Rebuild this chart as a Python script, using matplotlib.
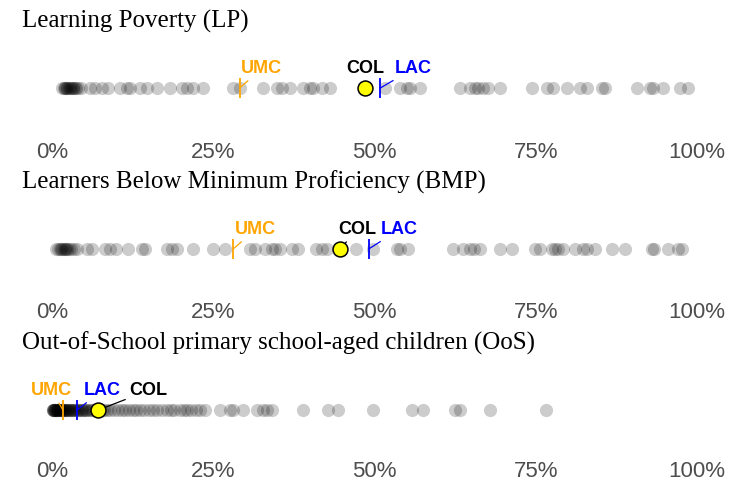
import matplotlib
matplotlib.use("Agg")
import matplotlib.pyplot as plt

# values in percent
lp_values = [1.5, 1.8, 2.0, 2.1, 2.3, 2.4, 2.6, 2.8, 3.0, 3.2, 3.3, 3.6, 3.8, 4.0, 4.5,
             5.9, 6.7, 7.8, 8.7, 10.5, 11.6, 12.1, 13.6, 14.7, 16.3, 18.3, 20.2, 20.9,
             21.9, 23.4, 28.0, 29.1, 32.7, 34.9, 35.6, 36.9, 38.9, 40.0, 40.5, 41.8,
             43.1, 51.6, 54.0, 55.0, 55.5, 57.0, 63.3, 64.8, 65.6, 66.0, 66.8, 67.6,
             69.5, 74.4, 76.7, 77.7, 79.8, 81.9, 83.0, 85.3, 85.7, 90.7, 92.7, 93.2,
             94.7, 97.4, 98.6]
bmp_values = [0.6, 1.0, 1.2, 1.4, 1.6, 1.8, 2.0, 2.2, 2.4, 2.6, 3.0, 3.5, 3.9, 5.4, 6.2,
              8.2, 9.0, 10.0, 11.8, 14.0, 14.4, 17.8, 18.6, 19.4, 21.9, 25.0, 26.8,
              30.7, 31.5, 33.0, 34.1, 34.6, 35.3, 37.2, 38.1, 41.0, 41.9, 42.6, 47.1,
              49.8, 53.5, 54.0, 55.2, 62.2, 63.7, 64.8, 65.4, 66.4, 69.5, 71.3, 74.9,
              75.7, 77.5, 78.0, 78.4, 79.2, 81.1, 82.3, 82.9, 84.2, 86.8, 88.8, 93.0,
              93.3, 95.5, 97.0, 97.7]
oos_values = [0.1, 0.15, 0.2, 0.3, 0.3, 0.4, 0.5, 0.5, 0.6, 0.7, 0.8, 0.9, 1.0, 1.0,
              1.1, 1.2, 1.3, 1.4, 1.5, 1.6, 1.7, 1.8, 2.0, 2.1, 2.2, 2.4, 2.5, 2.6,
              2.8, 3.0, 3.1, 3.3, 3.5, 3.6, 3.9, 4.0, 4.2, 4.5, 4.7, 4.8, 5.1, 5.3,
              5.5, 5.9, 6.1, 6.3, 6.8, 7.0, 7.3, 7.8, 8.1, 8.5, 9.0, 9.6, 10.2, 10.8,
              11.3, 11.9, 12.5, 13.0, 13.6, 14.2, 15.0, 15.6, 16.3, 17.0, 17.8, 18.5,
              19.0, 19.8, 20.5, 21.0, 21.6, 22.3, 23.0, 23.8, 26.0, 27.6, 28.1, 29.6,
              31.8, 32.7, 33.3, 34.1, 38.9, 42.8, 44.3, 49.8, 55.8, 57.5, 62.5, 63.3,
              67.9, 76.6]

titles = ["Learning Poverty (LP)",
          "Learners Below Minimum Proficiency (BMP)",
          "Out-of-School primary school-aged children (OoS)"]
col_values = [48.6, 44.7, 7.2]
umc_values = [29.1, 28.1, 1.7]
lac_values = [50.9, 49.1, 3.9]
tick_values = [0, 25, 50, 75, 100]
tick_labels = ["0%", "25%", "50%", "75%", "100%"]

# label offsets (points) for UMC, LAC, COL in each panel
label_offsets = [
    {"UMC": (16, 14), "LAC": (24, 14), "COL": (0, 14)},
    {"UMC": (16, 14), "LAC": (22, 14), "COL": (12, 14)},
    {"UMC": (-8, 14), "LAC": (18, 14), "COL": (36, 14)},
]

W, H = 735, 484
fig = plt.figure(figsize=(W / 100, H / 100), dpi=100)

all_values = [lp_values, bmp_values, oos_values]
for i in range(3):
    yc = 88 + 161 * i
    ax = fig.add_axes([39 / W, 1 - (yc + 48) / H, 671 / W, 96 / H])
    ax.set_xlim(-2, 102)
    ax.set_ylim(-1, 1)
    for s in ax.spines.values():
        s.set_visible(False)
    ax.set_yticks([])
    ax.set_xticks(tick_values)
    ax.set_xticklabels(tick_labels)
    ax.tick_params(axis="x", length=0, pad=4.5 - 1.0 * i, labelsize=16, labelcolor="#4d4d4d")
    for lab in ax.get_xticklabels():
        lab.set_fontfamily("Liberation Sans")

    vals = all_values[i]
    ax.scatter(vals, [0] * len(vals), s=90, color="black", alpha=0.2,
               linewidths=0, zorder=2)

    ax.plot([umc_values[i]], [0], marker="|", ms=14, mew=1.3, color="#FFA500", zorder=3)
    ax.plot([lac_values[i]], [0], marker="|", ms=14, mew=1.3, color="#0000FF", zorder=3)
    ax.scatter([col_values[i]], [0], s=115, color="#FFFF00", edgecolors="black",
               linewidths=1.1, zorder=5)

    offs = label_offsets[i]
    for name, x, c, shrink in [("UMC", umc_values[i], "#FFA500", 0),
                               ("LAC", lac_values[i], "#0000FF", 0),
                               ("COL", col_values[i], "black", 5)]:
        ax.annotate(name, xy=(x, 0), xytext=offs[name], textcoords="offset points",
                    ha="center", va="center", color=c, fontsize=13, fontweight="bold",
                    fontfamily="Liberation Sans", zorder=4,
                    arrowprops=dict(arrowstyle="-", color=c, lw=0.9,
                                    shrinkA=1, shrinkB=shrink))

    fig.text(22 / W, 1 - (yc - 67) / H, titles[i], fontsize=18,
             fontfamily="Liberation Serif", ha="left", va="center")

fig.savefig("out.png", dpi=100)
